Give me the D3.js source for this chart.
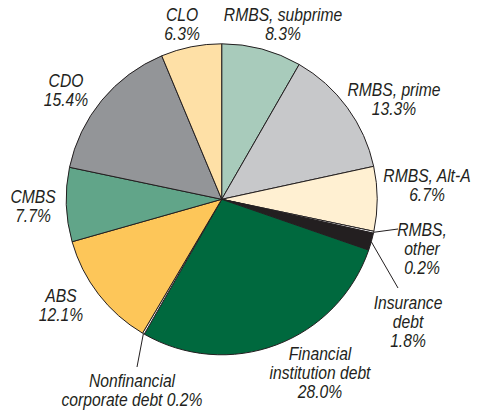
<!DOCTYPE html>
<html>
<head>
<meta charset="utf-8">
<script src="https://cdn.jsdelivr.net/npm/d3@7"></script>
<style>
  body { margin: 0; background: #fff; }
  text { font-family: "Liberation Sans", Arial, sans-serif; font-style: italic; font-size: 18px; fill: #231f20; }
</style>
</head>
<body>
<svg id="graph" width="477" height="411"></svg>
<script>
// slices, clockwise from 12 o'clock
let categories = ["RMBS, subprime","RMBS, prime","RMBS, Alt-A","RMBS, other","Insurance debt",
    "Financial institution debt","Nonfinancial corporate debt","ABS","CMBS","CDO","CLO"]
let values = [8.3,13.3,6.7,0.2,1.8,28.0,0.2,12.1,7.7,15.4,6.3]
let colors = ["#a8cbbb","#c7c8ca","#fff0d2","#ffffff","#231f20",
    "#00693e","#ffffff","#fdc659","#61a589","#939598","#fee0a6"]

// label lines as printed
let labelText = [
    ["RMBS, subprime","8.3%"],
    ["RMBS, prime","13.3%"],
    ["RMBS, Alt-A","6.7%"],
    ["RMBS,","other","0.2%"],
    ["Insurance","debt","1.8%"],
    ["Financial","institution debt","28.0%"],
    ["Nonfinancial","corporate debt 0.2%"],
    ["ABS","12.1%"],
    ["CMBS","7.7%"],
    ["CDO","15.4%"],
    ["CLO","6.3%"]
]

// label layout: center x, first line center y
let labelPos = [[283,14],[394,89],[427,175],[422,229],[408,302],[320,353],[132,380],[61,295],[33,196],[66,80],[182,14]]
// leader line ends for the small slices
let leaderEnd = {3:[398,229],4:[398,288],6:[137,367]}

let w = 477, h = 411
let cx = 221.7, cy = 199.3, r = 155.5
let lineh = 19.5
let squeeze = 0.87   // condensed face look

let data = categories.map((c,i)=>({name:c,value:values[i],color:colors[i],lines:labelText[i],pos:labelPos[i]}))

let pie = d3.pie().value(d=>d.value).sort(null)
let arc = d3.arc().innerRadius(0).outerRadius(r)
let edge = d3.arc().innerRadius(r).outerRadius(r)

let graph = d3.select("#graph")
let g = graph.append("g").attr("transform",`translate(${cx},${cy})`)

let arcs = pie(data)

g.selectAll("path")
    .data(arcs)
    .enter().append("path")
    .attr("d",arc)
    .style("fill",d=>d.data.color)
    .style("stroke","#231f20")
    .style("stroke-width",1)
    .style("stroke-linejoin","round")

// leader lines
arcs.forEach((d,i)=>{
    if (!leaderEnd[i]) return
    let p = edge.centroid(d)
    graph.append("line")
        .attr("x1",cx+p[0]).attr("y1",cy+p[1])
        .attr("x2",leaderEnd[i][0]).attr("y2",leaderEnd[i][1])
        .style("stroke","#231f20")
        .style("stroke-width",1)
})

let labels = graph.selectAll("text.lab")
    .data(data)
    .enter().append("text")
    .attr("class","lab")
    .attr("text-anchor","middle")
    .attr("transform",d=>`translate(${d.pos[0]},${d.pos[1]+6.5}) scale(${squeeze},1)`)

labels.selectAll("tspan")
    .data(d=>d.lines)
    .enter().append("tspan")
    .attr("x",0)
    .attr("y",(d,k)=>k*lineh)
    .text(d=>d)
</script>
</body>
</html>
